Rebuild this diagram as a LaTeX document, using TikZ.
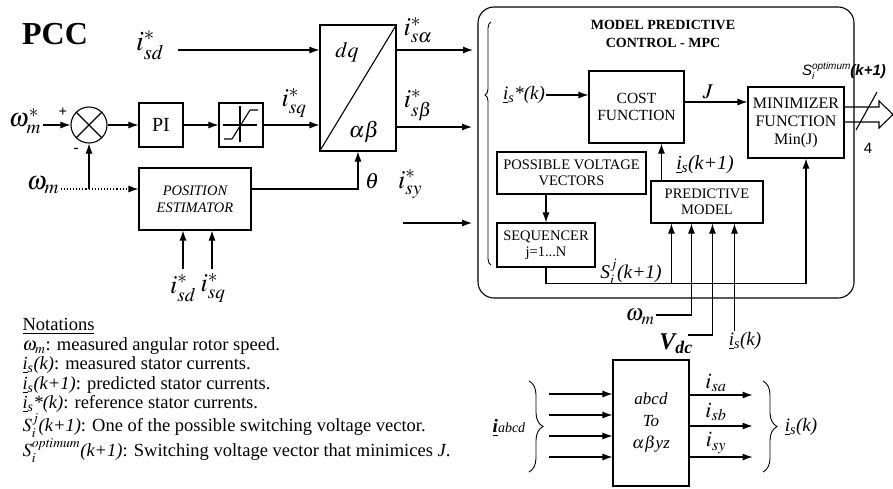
\documentclass[tikz,border=0pt]{standalone}
\usepackage{mathptmx}
\usepackage[no-math]{fontspec}
\setmainfont{Liberation Serif}
\setsansfont{Liberation Sans}
\usepackage{tikz}
\usetikzlibrary{arrows.meta,calc,decorations.pathreplacing}
\tikzset{>={Latex[length=10pt,width=7pt]},
    block/.style={draw, inner sep=2pt, align=center, font=\fontsize{15.5}{16.5}\selectfont},
    sumjunc/.style={draw, circle, minimum size=36pt, inner sep=0pt},
    lbl/.style={inner sep=1pt, font=\fontsize{26}{26}\selectfont},
    smalllbl/.style={inner sep=1pt, font=\fontsize{19}{19}\selectfont\itshape}}

\begin{document}
\begin{tikzpicture}[x=1pt, y=-1pt, line width=1.1pt]
    \useasboundingbox (0,0) rectangle (893,488);
    \node[font=\fontsize{32}{32}\selectfont\bfseries] (pcc) at (55,34) {PCC};

    % speed loop
    \node[sumjunc] (sum) at (89,125) {};
    \draw (sum.north west) -- (sum.south east) (sum.north east) -- (sum.south west);
    \node[block, minimum width=44, minimum height=44, font=\fontsize{20}{20}\selectfont] (pi) at (161,125) {PI};
    \node[block, minimum width=44, minimum height=44] (lim) at (241,125) {};
    \draw (lim.west) ++(5,0) -- ++(34,0);
    \draw (lim.north) ++(-1,4) -- ++(0,36);
    \draw (224,139) -- (232,139) -- (250,110) -- (258,110);
    \node[lbl] (wref) at (25,121) {$\omega^{*}_{m}$};
    \node[font=\fontsize{15}{15}\selectfont\bfseries] (plus) at (63,112) {+};
    \node[font=\fontsize{15}{15}\selectfont\bfseries] (minus) at (76,150) {-};
    \draw[->] (wref.east |- sum.west) -- (sum.west);
    \draw[->] (sum.east) -- (pi.west);
    \draw[->] (pi.east) -- (lim.west);

    % position estimator
    \node[block, minimum width=112, minimum height=62, font=\fontsize{14.5}{17}\selectfont\itshape] (est) at (195,199) {POSITION\\ESTIMATOR};
    \node[lbl] (wm) at (43,185) {$\omega_m$};
    \coordinate (tap) at (sum.south |- 0,189);
    \draw[dotted, ->] (wm.east |- tap) -- (est.west |- tap);
    \draw[->] (tap) -- (sum.south);
    \node[lbl] (isdb) at (183,288) {$i^{*}_{sd}$};
    \node[lbl] (isqb) at (213,288) {$i^{*}_{sq}$};
    \draw[->] ($(est.south)+(-12,38)$) -- ($(est.south)+(-12,0)$);
    \draw[->] ($(est.south)+(17,38)$) -- ($(est.south)+(17,0)$);

    % dq to alpha beta
    \node[draw, minimum width=76, minimum height=126, inner sep=0pt] (dq) at (358,88) {};
    \draw (dq.south west) -- (dq.north east);
    \node[lbl, font=\fontsize{22}{22}\selectfont] (dqtxt) at (347,52) {$dq$};
    \node[lbl, font=\fontsize{22}{22}\selectfont] (abtxt) at (364,132) {$\alpha\beta$};
    \node[lbl, font=\fontsize{28}{28}\selectfont] (isd) at (150,45) {$i^{*}_{sd}$};
    \node[lbl] (isq) at (294,103) {$i^{*}_{sq}$};
    \coordinate (a1) at (178,50);
    \draw[->] (a1) -- (a1 -| dq.west);
    \draw[->] (lim.east) -- (dq.west |- lim.east);
    \draw[->] (est.east |- tap) -| (dq.south);
    \node[lbl, font=\fontsize{22}{22}\selectfont] (theta) at (372,181) {$\theta$};
    \node[lbl] (isa) at (418,30) {$i^{*}_{s\alpha}$};
    \node[lbl] (isb) at (418,105) {$i^{*}_{s\beta}$};
    \node[lbl] (isy) at (410,184) {$i^{*}_{sy}$};
    \coordinate (ina) at (473,50);
    \coordinate (inb) at (472,127);
    \coordinate (iny) at (472,223);
    \draw[->] (dq.east |- ina) -- (ina);
    \draw[->] (dq.east |- inb) -- (inb);
    \draw[->] (403,223) -- (iny);

    % MPC
    \node[draw, rounded corners=16, minimum width=376, minimum height=291, inner sep=0pt] (mpc) at (666,152.5) {};
    \draw[line width=0.9pt, decorate, decoration={brace, amplitude=6pt, aspect=0.7}] (491,265) -- (491,22);
    \node[align=center, font=\fontsize{14}{18}\selectfont\bfseries] (mpctitle) at (663,34) {MODEL PREDICTIVE\\CONTROL - MPC};
    \node[block, minimum width=95, minimum height=72] (cost) at (636.5,107) {COST\\FUNCTION};
    \node[block, minimum width=96, minimum height=71, font=\fontsize{16}{18}\selectfont] (mini) at (796,122.5) {MINIMIZER\\FUNCTION\\Min(J)};
    \node[block, minimum width=149, minimum height=42, font=\fontsize{14.5}{16}\selectfont] (pvv) at (571.5,173) {POSSIBLE VOLTAGE\\VECTORS};
    \node[block, minimum width=98, minimum height=44, font=\fontsize{14.5}{16}\selectfont] (seq) at (546,245) {SEQUENCER\\j=1...N};
    \node[block, minimum width=112, minimum height=42, font=\fontsize{14.5}{16}\selectfont] (pred) at (707,202) {PREDICTIVE\\MODEL};
    \node[smalllbl] (iref) at (524,95) {\underline{i}\textsubscript{s}*(k)};
    \draw[->] (iref.east) -- (cost.west |- iref.east);
    \node[lbl, font=\fontsize{21}{21}\selectfont] (jlbl) at (708,92) {$J$};
    \draw[->] (cost.east |- 0,102) -- (mini.west |- 0,102);
    \draw[->] (pvv.south -| seq.north) -- (seq.north);
    \draw[->] ($(pred.north west)+(11,0)$) -- ($(cost.south west)+(73,0)$);
    \node[smalllbl, font=\fontsize{20}{20}\selectfont\itshape] (iskp) at (705,165) {\underline{i}\textsubscript{s}(k+1)};
    \coordinate (fb) at ($(seq.south)+(0,16)$);
    \coordinate (pin1) at ($(pred.south west)+(21,0)$);
    \coordinate (pin2) at ($(pred.south west)+(41,0)$);
    \coordinate (pin3) at ($(pred.south west)+(62,0)$);
    \coordinate (pin4) at ($(pred.south west)+(84,0)$);
    \draw[->] (seq.south) -- (fb) -| ($(mini.south)+(10,0)$);
    \draw[->] (fb -| pin1) -- (pin1);
    \node[smalllbl, font=\fontsize{19.5}{19.5}\selectfont\itshape] (sij) at (631,272) {S$_i^j$(k+1)};
    \node[lbl, font=\fontsize{23}{23}\selectfont] (wm2) at (640,317) {$\omega_m$};
    \draw[->] (wm2.east |- 0,315) -| (pin2);
    \node[lbl, font=\fontsize{24}{24}\selectfont\bfseries\itshape] (vdc) at (676,344) {V\textsubscript{dc}};
    \draw[->] (688,335) -| (pin3);
    \node[smalllbl] (isk) at (745,341) {\underline{i}\textsubscript{s}(k)};
    \draw[->] (isk.north -| pin4) -- (pin4);

    % optimum switching output
    \draw (mini.east |- 0,107) -- (879,107) -- (879,101) -- (893,114.5) -- (879,128) -- (879,122) -- (mini.east |- 0,122);
    \draw (856,130) -- (877,92);
    \node[font=\fontsize{15}{15}\selectfont\sffamily] (four) at (868,148) {4};
    \node[inner sep=1pt, font=\fontsize{15}{15}\selectfont\sffamily\itshape] (sopt) at (844,71) {S\rlap{\raisebox{-4pt}{\fontsize{10}{10}\selectfont i}}\raisebox{6pt}{\fontsize{10}{10}\selectfont optimum}\bfseries(k+1)};

    % abcd transformation
    \node[draw, minimum width=76, minimum height=126, inner sep=0pt, align=center, font=\fontsize{17}{22}\selectfont\itshape] (conv) at (651,423) {abcd\\To\\$\alpha\beta$yz};
    \foreach \dy in {-29,-8,13,34}
      \draw[->] ($(conv.west)+(-63,\dy)$) -- ++(63,0);
    \foreach \dy in {-28,3,34}
      \draw[->] ($(conv.east)+(0,\dy)$) -- ++(63,0);
    \draw[line width=0.9pt, decorate, decoration={brace, amplitude=14pt}] (529,381) -- (529,472);
    \draw[line width=0.9pt, decorate, decoration={brace, amplitude=14pt}] (763,381) -- (763,472);
    \node[inner sep=1pt, font=\fontsize{19}{19}\selectfont] (iabcd) at (509,428) {\textbf{\textit{\underline{i}}}\textit{\fontsize{14}{14}\selectfont abcd}};
    \node[lbl, font=\fontsize{22}{22}\selectfont] (iosa) at (716,383) {$i_{sa}$};
    \node[lbl, font=\fontsize{22}{22}\selectfont] (iosb) at (716,412) {$i_{sb}$};
    \node[lbl, font=\fontsize{22}{22}\selectfont] (iosy) at (716,443) {$i_{sy}$};
    \node[smalllbl] (isk2) at (801,427) {\underline{i}\textsubscript{s}(k)};

    % notations
    \node[anchor=north west, align=left, inner sep=0pt, font=\fontsize{18.5}{19.5}\selectfont] (notes) at (22,318) {\underline{Notations}\\
      $\omega_m$: measured angular rotor speed.\\
      \textit{\underline{i}\textsubscript{s}(k)}: measured stator currents.\\
      \textit{\underline{i}\textsubscript{s}(k+1)}: predicted stator currents.\\
      \textit{\underline{i}\textsubscript{s}*(k)}: reference stator currents.\\
      $S_i^j$\textit{(k+1)}: One of the possible switching voltage vector.\\
      $S_i^{\mathit{optimum}}$\textit{(k+1)}: Switching voltage vector that minimices \textit{J}.};
\end{tikzpicture}
\end{document}
